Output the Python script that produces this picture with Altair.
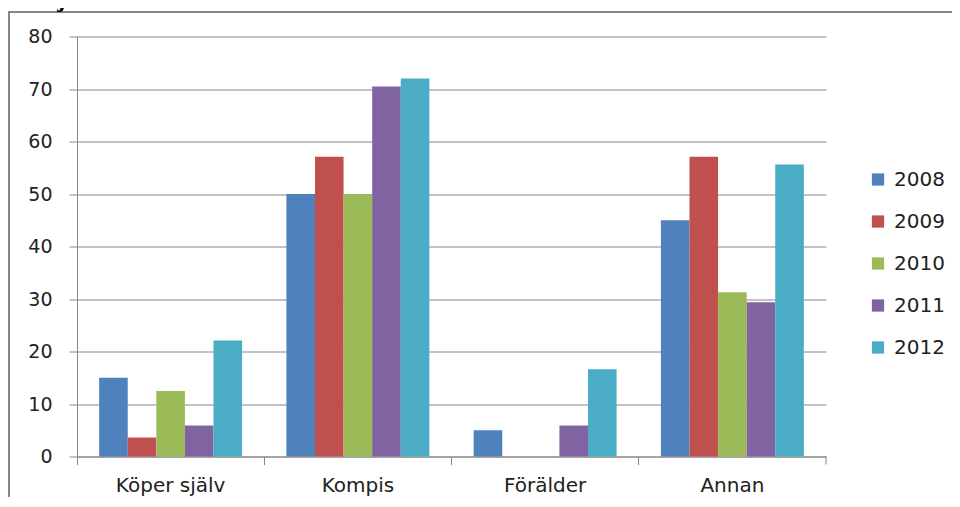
import altair as alt
import pandas as pd

categories = ["Köper själv", "Kompis", "Förälder", "Annan"]
years = ["2008", "2009", "2010", "2011", "2012"]
v2008 = [15.0, 50.0, 5.0, 45.0]
v2009 = [3.6, 57.1, 0.0, 57.1]
v2010 = [12.5, 50.0, 0.0, 31.3]
v2011 = [5.9, 70.5, 5.9, 29.4]
v2012 = [22.1, 72.0, 16.6, 55.6]
colors = ["#4F81BD", "#C0504D", "#9BBB59", "#8064A2", "#4BACC6"]
y_ticks = [0, 10, 20, 30, 40, 50, 60, 70, 80]
title_text = "Norsjö/Malå"

rows = []
for yr, vals in zip(years, [v2008, v2009, v2010, v2011, v2012]):
    for c, v in zip(categories, vals):
        rows.append({"category": c, "year": yr, "value": v})
df = pd.DataFrame(rows)

W, H = 749, 420
GRAY = "#868686"
FONT = "DejaVu Sans"

bars = alt.Chart(df).mark_bar().encode(
    x=alt.X("category:N", sort=categories,
            scale=alt.Scale(paddingInner=0, paddingOuter=0),
            axis=alt.Axis(title=None, bandPosition=0, labelAngle=0, tickSize=8,
                          labelFontSize=20, labelPadding=11, grid=False)),
    xOffset=alt.XOffset("year:N", sort=years,
                        scale=alt.Scale(paddingInner=0, paddingOuter=0.775)),
    y=alt.Y("value:Q", scale=alt.Scale(domain=[0, 80], nice=False),
            axis=alt.Axis(title=None, values=y_ticks, tickSize=8, labelPadding=17,
                          labelFontSize=19, grid=True)),
    color=alt.Color("year:N", sort=years,
                    scale=alt.Scale(domain=years, range=colors),
                    legend=alt.Legend(title=None, orient="none", legendX=791, legendY=133,
                                      symbolType="square", symbolSize=150,
                                      symbolStrokeWidth=0, symbolOpacity=1,
                                      rowPadding=22, labelFontSize=20, labelFont=FONT,
                                      labelColor="#222", labelOffset=6)),
)

one = alt.Data(values=[{"k": 1}])

border = alt.Chart(one).mark_rect(fill="transparent", stroke=GRAY, strokeWidth=2).encode(
    x=alt.value(-68), x2=alt.value(W + 300), y=alt.value(-24.5), y2=alt.value(H + 200)
)

end_tick = alt.Chart(one).mark_rule(color=GRAY).encode(
    x=alt.value(W), y=alt.value(H), y2=alt.value(H + 8)
)

title = alt.Chart(one).mark_text(text=title_text, font="Liberation Serif", fontWeight="bold",
                                 fontSize=24, align="left", baseline="alphabetic",
                                 color="#000").encode(
    x=alt.value(-69), y=alt.value(-30)
)

chart = alt.layer(border, bars, end_tick, title).properties(
    width=W, height=H,
    autosize=alt.AutoSizeParams(type="none"),
    padding={"left": 69, "top": 28.5, "right": 126, "bottom": 40},
).configure_view(strokeWidth=0).configure_axis(
    domainColor=GRAY, tickColor=GRAY, gridColor=GRAY, gridOpacity=1,
    labelFont=FONT, labelColor="#222", domainWidth=1, tickWidth=1
)

chart.save("out.html", embed_options={"renderer": "svg", "actions": False})
